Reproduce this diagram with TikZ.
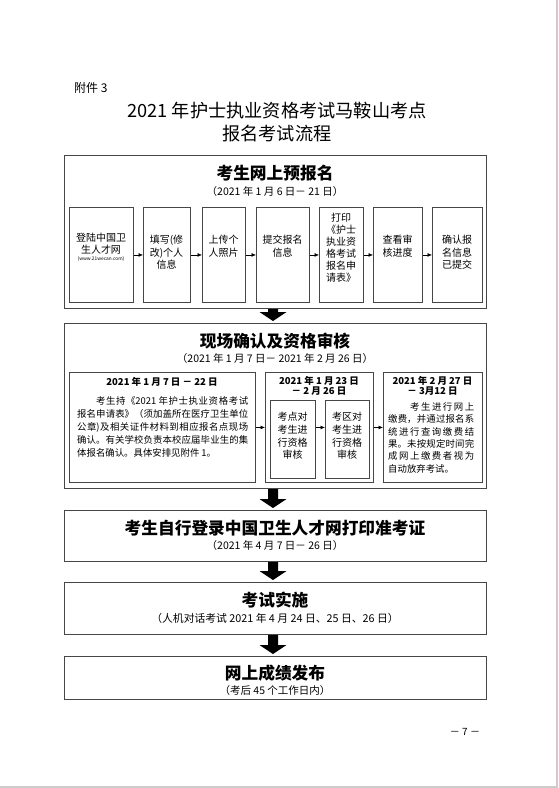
\documentclass[tikz,border=0pt]{standalone}
\usepackage{fontspec}
\setmainfont{Noto Sans CJK SC}
\usetikzlibrary{arrows.meta,calc}
\XeTeXlinebreaklocale "zh"
\XeTeXlinebreakskip=0pt plus 3pt
\newcommand\fsz[2]{\fontsize{#1}{#2}\selectfont}
\newcommand\blockarr[2]{%
  \fill[black] let \p1=(#1.south), \p2=(#2.north) in
    (268pt,\y1) -- (278pt,\y1) -- (278pt,\y2+11pt) -- (286.5pt,\y2+11pt) --
    (273pt,\y2+2pt) -- (259.5pt,\y2+11pt) -- (268pt,\y2+11pt) -- cycle;}
\tikzset{
  frame/.style={draw=gray!55!black, line width=1.1pt, inner sep=0pt, anchor=north west},
  ibox/.style={draw=gray!55!black, line width=0.9pt, inner sep=0pt, anchor=north west},
  small/.style={-{Latex[length=4.5pt,width=4pt]}, line width=0.6pt, black},
  ttl/.style={font=\fsz{16.7}{18}\bfseries, inner sep=0pt},
  sub/.style={font=\fsz{10.5}{12}, inner sep=0pt},
  txt/.style={font=\fsz{10}{12.5}, align=center, inner sep=0pt, anchor=north},
  btxt/.style={font=\fsz{9.4}{13}, align=justify, inner sep=0pt, anchor=north west},
  dtl/.style={font=\fsz{9.5}{10}\bfseries, inner sep=0pt},
}
\begin{document}
\begin{tikzpicture}[x=1pt,y=-1pt]
\useasboundingbox (0,0) rectangle (558,788);
\fill[white] (0,0) rectangle (558,788);
\fill[gray!40] (556,0) rectangle (558,788);
\fill[gray!40] (0,785.5) rectangle (558,788);

% header
\node[font=\fsz{12}{14}, inner sep=0pt, anchor=west] (att) at (74,88) {附件 3};
\node[font=\fsz{18.2}{22}, inner sep=0pt, align=center] (title) at (277,122) {2021 年护士执业资格考试马鞍山考点\\[0.2pt]报名考试流程};

% ---- box 1
\node[frame, minimum width=422pt, minimum height=153pt] (b1) at (64,155) {};
\node[ttl] (b1t) at (275,173) {考生网上预报名};
\node[sub] (b1s) at (275,192) {（2021 年 1 月 6 日－ 21 日）};
\node[ibox, minimum width=64pt, minimum height=95pt] (p1) at (69,207) {};
\node[ibox, minimum width=47pt, minimum height=95pt] (p2) at (143,207) {};
\node[ibox, minimum width=43pt, minimum height=95pt] (p3) at (202,207) {};
\node[ibox, minimum width=53pt, minimum height=95pt] (p4) at (256,207) {};
\node[ibox, minimum width=44pt, minimum height=95pt] (p5) at (319,207) {};
\node[ibox, minimum width=49pt, minimum height=95pt] (p6) at (373,207) {};
\node[ibox, minimum width=50pt, minimum height=95pt] (p7) at (432,207) {};
\node[txt, font=\fsz{10}{12}] (p1t) at (101,233) {登陆中国卫\\生人才网};
\node[inner sep=0pt, font=\fsz{4.8}{5}] (p1u) at (101,259.5) {(www.21wecan.com)};
\node[txt] (p2t) at (166.5,235) {填写(修\\改)个人\\信息};
\node[txt] (p3t) at (223.5,235) {上传个\\人照片};
\node[txt] (p4t) at (282.5,235) {提交报名\\信息};
\node[txt, font=\fsz{10}{11.9}] (p5t) at (341,213) {打印\\《护士\\执业资\\格考试\\报名申\\请表》};
\node[txt] (p6t) at (397.5,235) {查看审\\核进度};
\node[txt] (p7t) at (457,235) {确认报\\名信息\\已提交};
\draw[small] (p1.east) -- (p2.west);
\draw[small] (p2.east) -- (p3.west);
\draw[small] (p3.east) -- (p4.west);
\draw[small] (p4.east) -- (p5.west);
\draw[small] (p5.east) -- (p6.west);
\draw[small] (p6.east) -- (p7.west);

% ---- box 2
\node[frame, minimum width=422pt, minimum height=165pt] (b2) at (64,323) {};
\node[ttl] (b2t) at (275,341) {现场确认及资格审核};
\node[sub] (b2s) at (275,359) {（2021 年 1 月 7 日－ 2021 年 2 月 26 日）};
\node[ibox, minimum width=186pt, minimum height=110pt] (qa) at (69,372) {};
\node[ibox, minimum width=108pt, minimum height=110pt] (qb) at (265,372) {};
\node[ibox, minimum width=99pt, minimum height=110pt] (qc) at (383,372) {};
\node[dtl] (qat) at (162,382) {2021 年 1 月 7 日 － 22 日};
\node[btxt, text width=171pt] (qatx) at (77,396) {\hspace*{18.8pt}考生持《2021 年护士执业资格考试\linebreak 报名申请表》（须加盖所在医疗卫生单位\linebreak 公章)及相关证件材料到相应报名点现场\linebreak 确认。有关学校负责本校应届毕业生的集\linebreak 体报名确认。具体安排见附件 1。};
\node[dtl] (qbt1) at (319,381) {2021 年 1 月 23 日};
\node[dtl] (qbt2) at (319,391.5) {－ 2 月 26 日};
\node[ibox, minimum width=45pt, minimum height=78pt] (qb1) at (270,400) {};
\node[ibox, minimum width=44pt, minimum height=78pt] (qb2) at (325,400) {};
\node[txt, font=\fsz{10}{12.7}] (qb1t) at (292.5,412) {考点对\\考生进\\行资格\\审核};
\node[txt, font=\fsz{10}{12.7}] (qb2t) at (347,412) {考区对\\考生进\\行资格\\审核};
\node[dtl] (qct1) at (432.5,381) {2021 年 2 月 27 日};
\node[dtl] (qct2) at (432.5,391.5) {－ 3月12 日};
\node[btxt, font=\fsz{9.4}{12.3}, text width=86pt] (qctx) at (388,402.5) {\hspace*{22pt}考生进行网上\linebreak 缴费，并通过报名系\linebreak 统进行查询缴费结\linebreak 果。未按规定时间完\linebreak 成网上缴费者视为\linebreak 自动放弃考试。};
\draw[small] (qa.east) -- (qb.west);
\draw[small] (qb1.east |- qa.east) -- (qb2.west |- qa.east);
\draw[small] (qb.east) -- (qc.west);

% ---- box 3
\node[frame, minimum width=422pt, minimum height=51pt] (b3) at (64,510) {};
\node[ttl] (b3t) at (275,528) {考生自行登录中国卫生人才网打印准考证};
\node[sub] (b3s) at (275,546) {（2021 年 4 月 7 日－ 26 日）};

% ---- box 4
\node[frame, minimum width=422pt, minimum height=52pt] (b4) at (64,582) {};
\node[ttl] (b4t) at (275,600) {考试实施};
\node[sub, font=\fsz{10.8}{12}] (b4s) at (275,618) {（人机对话考试 2021 年 4 月 24 日、25 日、26 日）};

% ---- box 5
\node[frame, minimum width=422pt, minimum height=43pt] (b5) at (64,656) {};
\node[ttl] (b5t) at (275,673) {网上成绩发布};
\node[sub] (b5s) at (275,691) {（考后 45 个工作日内）};

% block arrows
\blockarr{b1}{b2}
\blockarr{b2}{b3}
\blockarr{b3}{b4}
\blockarr{b4}{b5}

% page number
\node[font=\fsz{10}{12}, inner sep=0pt] (pg) at (465,732) {－ 7 －};
\end{tikzpicture}
\end{document}
